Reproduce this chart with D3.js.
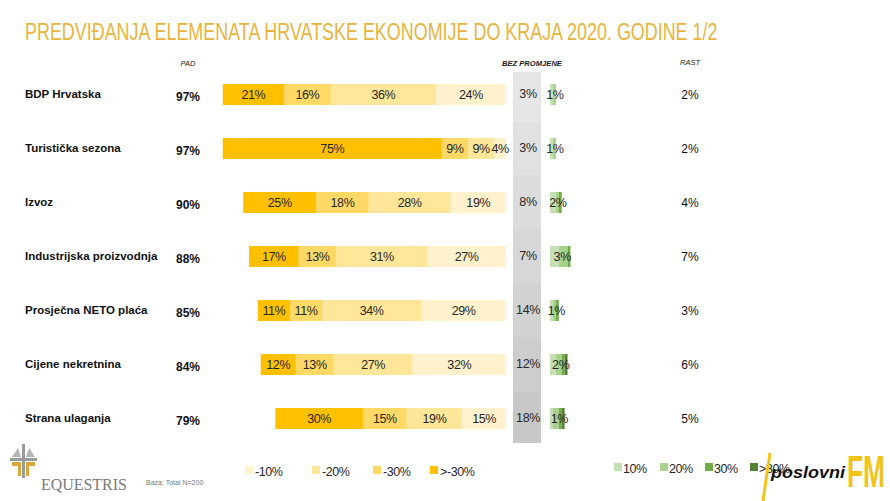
<!DOCTYPE html>
<html><head><meta charset="utf-8">
<script src="https://cdn.jsdelivr.net/npm/d3@7"></script>
<style>body{margin:0;background:#fff}svg{display:block}</style>
</head><body>
<svg id="c" width="890" height="501"></svg>
<script>
const rows = ["BDP Hrvatska","Turistička sezona","Izvoz","Industrijska proizvodnja","Prosječna NETO plaća","Cijene nekretnina","Strana ulaganja"];
const padTotal = [97,97,90,88,85,84,79];
const padGt30 = [21,75,25,17,11,12,30];
const pad30 = [16,9,18,13,11,13,15];
const pad20 = [36,9,28,31,34,27,19];
const pad10 = [24,4,19,27,29,32,15];
const bezPromjene = [3,3,8,7,14,12,18];
const rast = [2,2,4,7,3,6,5];
const grow10 = [1,1,2,3,1,2,1];
const grow20 = [1,1,1,3,1,2,2];
const grow30 = [0,0,1,1,1,1,1];
const grow30p = [0,0,0,0,0,1,1];
const padKeys = ["-10%","-20%","-30%",">-30%"];
const growKeys = ["10%","20%","30%",">30%"];

const padColors = {"-10%":"#FFF2CC","-20%":"#FFE699","-30%":"#FFD966",">-30%":"#FFC000"};
const growColors = {"10%":"#C5E0B4","20%":"#A9D18E","30%":"#70AD47",">30%":"#548235"};
const SANS = "'Liberation Sans',Arial,sans-serif";

const data = rows.map((r,i)=>({row:r,"-10%":pad10[i],"-20%":pad20[i],"-30%":pad30[i],">-30%":padGt30[i],
  "10%":grow10[i],"20%":grow20[i],"30%":grow30[i],">30%":grow30p[i]}));

const svg = d3.select("#c");
const y = d3.scaleBand().domain(rows).range([67.5,445.5]).paddingInner(0.61).paddingOuter(0.305);
const xPad = d3.scaleLinear().domain([0,100]).range([506,214]);
const xGrow = d3.scaleLinear().domain([0,100]).range([550,842]);
const bh = y.bandwidth();
const yc = r => y(r)+bh/2;

// squeeze a left-anchored text horizontally to a given width
function fit(sel, x, w){
  const n = sel.node().getComputedTextLength();
  const s = w / n;
  sel.attr("x",0).attr("transform",`translate(${x},0) scale(${s},1)`);
  return sel;
}

// title
fit(svg.append("text").attr("y",40).attr("fill","#E8B43C")
  .attr("font-family",SANS).attr("font-size",24.5)
  .text("PREDVIĐANJA ELEMENATA HRVATSKE EKONOMIJE DO KRAJA 2020. GODINE 1/2"), 25, 693);

// headers
svg.append("text").attr("x",188).attr("y",66).attr("text-anchor","middle").attr("font-family",SANS)
  .attr("font-size",7.5).attr("font-style","italic").attr("fill","#222").text("PAD");
fit(svg.append("text").attr("y",66).attr("font-family",SANS)
  .attr("font-size",8).attr("font-style","italic").attr("font-weight","bold").attr("fill","#222")
  .text("BEZ PROMJENE"), 502, 60);
svg.append("text").attr("x",690).attr("y",65).attr("text-anchor","middle").attr("font-family",SANS)
  .attr("font-size",7.5).attr("font-style","italic").attr("fill","#222").text("RAST");

// gray column
const step = y.step();
svg.append("g").selectAll("rect").data(rows).join("rect")
  .attr("x",513).attr("width",28)
  .attr("y",(r,i)=> i===0 ? 72 : yc(r)-step/2)
  .attr("height",(r,i)=> i===0 ? yc(r)+step/2-72 : (i===rows.length-1 ? 443-(yc(r)-step/2) : step+0.5))
  .attr("fill",(r,i)=>d3.interpolateRgb("#E6E6E6","#C8C8C8")(i/(rows.length-1)));

// pad stacks
const padStack = d3.stack().keys(padKeys)(data);
const gp = svg.append("g");
padStack.forEach(layer=>{
  const k = layer.key;
  layer.forEach(d=>{
    const r = d.data.row;
    const x0 = xPad(d[1]), x1 = xPad(d[0]);
    gp.append("rect").attr("x",x0).attr("y",y(r)).attr("width",x1-x0).attr("height",bh).attr("fill",padColors[k]);
  });
});
padStack.forEach(layer=>{
  layer.forEach(d=>{
    const r = d.data.row;
    const x0 = xPad(d[1]), x1 = xPad(d[0]);
    gp.append("text").attr("x",(x0+x1)/2).attr("y",yc(r)+4.5).attr("text-anchor","middle")
      .attr("font-family",SANS).attr("font-size",12.5).attr("letter-spacing",-0.4).attr("fill","#262626").text((d[1]-d[0])+"%");
  });
});

// growth stacks
const growStack = d3.stack().keys(growKeys)(data);
const gg = svg.append("g");
growStack.forEach(layer=>{
  const k = layer.key;
  layer.forEach(d=>{
    const r = d.data.row;
    if (d[1]-d[0] <= 0) return;
    gg.append("rect").attr("x",xGrow(d[0])).attr("y",y(r)).attr("width",xGrow(d[1])-xGrow(d[0])).attr("height",bh).attr("fill",growColors[k]);
  });
});
gg.selectAll("text.gl").data(data).join("text").attr("class","gl")
  .attr("x",(d,i)=>(xGrow(0)+xGrow(rast[i]))/2+2).attr("y",d=>yc(d.row)+4.5).attr("text-anchor","middle")
  .attr("font-family",SANS).attr("font-size",12.5).attr("letter-spacing",-0.4).attr("fill","#262626").text(d=>d["10%"]+"%");

// bez promjene labels
svg.append("g").selectAll("text").data(rows).join("text")
  .attr("x",528).attr("y",(r)=>yc(r)+3.5).attr("text-anchor","middle")
  .attr("font-family",SANS).attr("font-size",12.5).attr("letter-spacing",-0.4).attr("fill","#262626").text((r,i)=>bezPromjene[i]+"%");

// row labels
svg.append("g").selectAll("text").data(rows).join("text")
  .attr("x",25).attr("y",r=>yc(r)+3).attr("font-family",SANS).attr("font-weight","bold")
  .attr("font-size",11.5).attr("fill","#111").text(r=>r);
svg.append("g").selectAll("text").data(rows).join("text")
  .attr("x",176).attr("y",r=>yc(r)+6).attr("font-family",SANS).attr("font-weight","bold")
  .attr("font-size",12).attr("fill","#111").text((r,i)=>padTotal[i]+"%");
svg.append("g").selectAll("text").data(rows).join("text")
  .attr("x",690).attr("y",r=>yc(r)+4).attr("text-anchor","middle").attr("font-family",SANS)
  .attr("font-size",12).attr("fill","#111").text((r,i)=>rast[i]+"%");

// legends
const padLegX = [245,312,373,430];
const lg = svg.append("g");
padKeys.forEach((k,i)=>{
  lg.append("rect").attr("x",padLegX[i]).attr("y",466).attr("width",8).attr("height",8).attr("fill",padColors[k]);
  lg.append("text").attr("x",padLegX[i]+10).attr("y",475.5).attr("font-family",SANS).attr("font-size",12.5).attr("letter-spacing",-0.4).attr("fill","#262626").text(k);
});
const growLegX = [614,660,705,750];
growKeys.forEach((k,i)=>{
  lg.append("rect").attr("x",growLegX[i]).attr("y",463).attr("width",8).attr("height",8).attr("fill",growColors[k]);
  lg.append("text").attr("x",growLegX[i]+9).attr("y",472.5).attr("font-family",SANS).attr("font-size",12.5).attr("letter-spacing",-0.4).attr("fill","#262626").text(k);
});

// Equestris logo
const logo = svg.append("g");
logo.append("rect").attr("x",22).attr("y",444).attr("width",3).attr("height",34).attr("fill","#9A9A9A");
logo.append("rect").attr("x",10).attr("y",458).attr("width",27).attr("height",3).attr("fill","#9A9A9A");
logo.append("path").attr("d","M12,462 L21,462 L21,476 L18,476 L18,466 L12,466Z M26,462 L35,462 L35,466 L29,466 L29,476 L26,476Z").attr("fill","#D9A73A");
logo.append("path").attr("d","M12,457 L18,448 L21,457Z M26,457 L29,448 L35,457Z").attr("fill","#B5B5B5");
fit(logo.append("text").attr("y",490).attr("font-family","'Liberation Serif','DejaVu Serif',serif")
  .attr("font-size",17).attr("fill","#7A7A7A").text("EQUESTRIS"), 41, 86);
logo.append("text").attr("x",146).attr("y",485).attr("font-family",SANS).attr("font-size",7).attr("fill","#777").text("Baza: Total N=200");

// poslovniFM logo
const pf = svg.append("g");
pf.append("line").attr("x1",770).attr("y1",453).attr("x2",763).attr("y2",501).attr("stroke","#F2C318").attr("stroke-width",3);
fit(pf.append("text").attr("y",478).attr("font-family",SANS).attr("font-weight","bold").attr("font-style","italic")
  .attr("font-size",17).attr("fill","#111").text("poslovni"), 771, 74);
fit(pf.append("text").attr("y",487).attr("font-family",SANS).attr("font-weight","bold")
  .attr("font-size",44).attr("fill","#F2C318").text("FM"), 847, 38);
</script>
</body></html>
